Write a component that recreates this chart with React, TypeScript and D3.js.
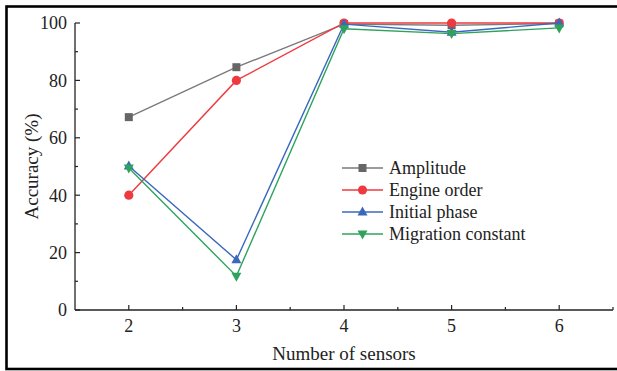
import React from "react";
import * as d3 from "d3";

const sensors = [2, 3, 4, 5, 6];
const amplitude = [67.2, 84.6, 99.6, 99.2, 99.8];
const engineOrder = [40, 80, 100, 100, 100];
const initialPhase = [50.2, 17.5, 99.6, 96.8, 100];
const migrationConstant = [49.5, 11.8, 98, 96.3, 98.3];
const yTicks = [0, 20, 40, 60, 80, 100];
const yMinor = [10, 30, 50, 70, 90];
const xMinor = [2.5, 3.5, 4.5, 5.5, 6.5];

const seriesList = [
  { name: "Amplitude", values: amplitude, line: "#7a7a7a", fill: "#666666", marker: "square" },
  { name: "Engine order", values: engineOrder, line: "#ef3a3f", fill: "#ee3a3f", marker: "circle" },
  { name: "Initial phase", values: initialPhase, line: "#3a68bd", fill: "#3a68bd", marker: "up" },
  { name: "Migration constant", values: migrationConstant, line: "#2fa35c", fill: "#2fa35c", marker: "down" },
];

const FONT = "Liberation Serif, DejaVu Serif, serif";
const ts: React.CSSProperties = { fontFamily: FONT };

function Marker({ type, x, y, fill }: { type: string; x: number; y: number; fill: string }) {
  if (type === "square") return <rect x={x - 4} y={y - 4} width={8} height={8} fill={fill} />;
  if (type === "circle") return <circle cx={x} cy={y} r={4.6} fill={fill} />;
  if (type === "up") return <path d={`M${x},${y - 5.5} L${x + 5},${y + 3.5} L${x - 5},${y + 3.5} Z`} fill={fill} />;
  return <path d={`M${x},${y + 5.5} L${x + 5},${y - 3.5} L${x - 5},${y - 3.5} Z`} fill={fill} />;
}

export default function App() {
  const W = 617, H = 371;
  const x = d3.scaleLinear().domain([1.5, 6.5]).range([75, 613]);
  const y = d3.scaleLinear().domain([0, 100]).range([310, 23]);
  const line = d3.line<number>().x((_, i) => x(sensors[i])).y((v) => y(v));
  const legendX = 342, legendY = 168, legendGap = 22;

  return (
    <svg width={W} height={H} style={{ position: "absolute", left: 0, top: 0, background: "#fff" }}>
      <rect x={6.5} y={6.5} width={W + 10} height={362.5} fill="none" stroke="#000" strokeWidth={2.6} />
      <line x1={x(1.5)} x2={x(6.5)} y1={y(0)} y2={y(0)} stroke="#222" strokeWidth={1.3} />
      <line x1={x(1.5)} x2={x(1.5)} y1={y(0)} y2={y(100)} stroke="#222" strokeWidth={1.3} />
      {yTicks.map((t) => (
        <g key={"y" + t}>
          <line x1={x(1.5)} x2={x(1.5) + 5} y1={y(t)} y2={y(t)} stroke="#222" strokeWidth={1.2} />
          <text x={67} y={y(t)} dy="0.35em" textAnchor="end" fontSize={18} fill="#222" style={ts}>{t}</text>
        </g>
      ))}
      {yMinor.map((t) => (
        <line key={"ym" + t} x1={x(1.5)} x2={x(1.5) + 3} y1={y(t)} y2={y(t)} stroke="#222" strokeWidth={1.2} />
      ))}
      {sensors.map((s) => (
        <g key={"x" + s}>
          <line x1={x(s)} x2={x(s)} y1={y(0)} y2={y(0) - 5} stroke="#222" strokeWidth={1.2} />
          <text x={x(s)} y={332} textAnchor="middle" fontSize={18} fill="#222" style={ts}>{s}</text>
        </g>
      ))}
      {xMinor.map((s) => (
        <line key={"xm" + s} x1={x(s)} x2={x(s)} y1={y(0)} y2={y(0) - 3} stroke="#222" strokeWidth={1.2} />
      ))}
      <text x={344} y={360} textAnchor="middle" fontSize={19} fill="#222" style={ts}>Number of sensors</text>
      <text transform={`translate(38,${y(50)}) rotate(-90)`} textAnchor="middle" fontSize={19} fill="#222" style={ts}>Accuracy (%)</text>
      {seriesList.map((s) => (
        <g key={s.name}>
          <path d={line(s.values) || ""} fill="none" stroke={s.line} strokeWidth={1.4} />
          {s.values.map((v, i) => (
            <Marker key={i} type={s.marker} x={x(sensors[i])} y={y(v)} fill={s.fill} />
          ))}
        </g>
      ))}
      {seriesList.map((s, i) => (
        <g key={"lg" + s.name}>
          <line x1={legendX} x2={legendX + 41} y1={legendY + i * legendGap} y2={legendY + i * legendGap} stroke={s.line} strokeWidth={1.4} />
          <Marker type={s.marker} x={legendX + 20.5} y={legendY + i * legendGap} fill={s.fill} />
          <text x={legendX + 47} y={legendY + i * legendGap} dy="0.33em" fontSize={18} fill="#222" style={ts}>{s.name}</text>
        </g>
      ))}
    </svg>
  );
}
